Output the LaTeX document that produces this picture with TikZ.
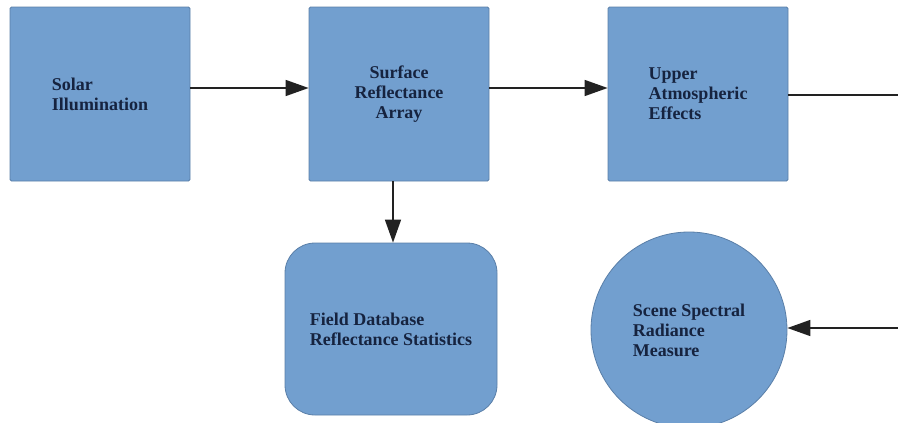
\documentclass[tikz,border=0pt]{standalone}
\usepackage{fontspec}
\setmainfont{Liberation Serif}
\usetikzlibrary{arrows.meta}
\definecolor{boxfill}{HTML}{729FCF}
\definecolor{boxline}{HTML}{5A7FA8}
\definecolor{txt}{HTML}{16233F}
\definecolor{conn}{HTML}{222222}
\tikzset{
  base/.style={fill=boxfill, draw=boxline, line width=0.8pt, text=txt,
    font=\fontsize{18}{20}\selectfont\bfseries, inner sep=0pt},
  sqbox/.style={base, rectangle, minimum width=180pt, minimum height=174pt, rounded corners=1.5pt},
  rbox/.style={base, rectangle, minimum width=212pt, minimum height=172pt, rounded corners=30pt},
  cbox/.style={base, circle, minimum size=196pt},
  conn/.style={draw=conn, line width=1.5pt, -{Triangle[length=23pt,width=16pt]}},
  plain/.style={draw=conn, line width=1.5pt}
}
\begin{document}
\begin{tikzpicture}[x=1pt,y=-1pt]
\useasboundingbox (0,0) rectangle (898,423);
\node[sqbox, align=left] (solar) at (100,94) {Solar\\Illumination};
\node[sqbox, align=center] (surf) at (399,94) {Surface\\Reflectance\\Array};
\node[sqbox, align=left] (upper) at (698,94) {Upper\\Atmospheric\\Effects};
\node[rbox, align=left] (field) at (391,329) {Field Database\\Reflectance Statistics};
\node[cbox, align=left] (scene) at (689,330) {Scene Spectral\\Radiance\\Measure};
\coordinate (outA) at (898,95);
\coordinate (outB) at (898,328);
\draw[conn] (solar.east |- 0,88) -- (surf.west |- 0,88);
\draw[conn] (surf.east |- 0,88) -- (upper.west |- 0,88);
\draw[conn] (surf.south -| 393,0) -- (field.north -| 393,0);
\draw[plain] (upper.east |- outA) -- (outA);
\draw[conn] (outB) -- (scene.east |- outB);
\end{tikzpicture}
\end{document}
